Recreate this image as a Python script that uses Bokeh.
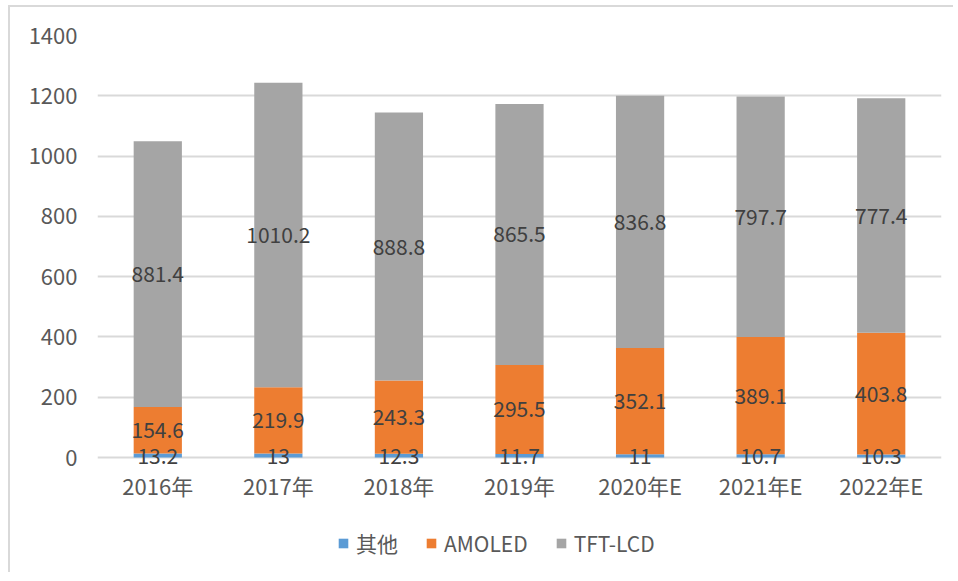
from bokeh.plotting import figure
from bokeh.models import ColumnDataSource, Legend, LegendItem, FactorRange, Range1d
from bokeh.core.properties import value
from bokeh.embed import file_html
from bokeh.resources import INLINE

categories = ["2016年", "2017年", "2018年", "2019年", "2020年E", "2021年E", "2022年E"]
other = [13.2, 13, 12.3, 11.7, 11, 10.7, 10.3]
amoled = [154.6, 219.9, 243.3, 295.5, 352.1, 389.1, 403.8]
tftlcd = [881.4, 1010.2, 888.8, 865.5, 836.8, 797.7, 777.4]
series_names = ["其他", "AMOLED", "TFT-LCD"]
y_ticks = [0, 200, 400, 600, 800, 1000, 1200, 1400]

colors = ["#5B9BD5", "#ED7D31", "#A5A5A5"]
FONT = "Noto Sans CJK SC"

# layout (pixels)
FIG_W, FIG_H = 945, 567
MB_TOP = 28
PLOT_SPAN_PX = 422          # pixel height from 0 to 1400
frame_h = FIG_H - MB_TOP
y_max = y_ticks[-1]
y_min = -(frame_h - PLOT_SPAN_PX) / PLOT_SPAN_PX * y_max   # room below 0 for labels/legend

src = ColumnDataSource(dict(cat=categories, s0=other, s1=amoled, s2=tftlcd))

p = figure(x_range=FactorRange(*categories, range_padding=0), y_range=Range1d(y_min, y_max),
           width=FIG_W, height=FIG_H, output_backend="svg", toolbar_location=None,
           min_border_left=87, min_border_right=14, min_border_top=MB_TOP, min_border_bottom=0)
p.styles = {"border-top": "2px solid #D9D9D9", "border-left": "2px solid #D9D9D9",
            "margin-left": "8px", "margin-top": "5px"}
p.outline_line_color = None
p.background_fill_color = "white"
p.border_fill_color = "white"

renderers = p.vbar_stack(["s0", "s1", "s2"], x="cat", width=0.4, source=src,
                         color=colors, line_color=None)

# data labels
cum = [0.0] * len(categories)
for vals in (other, amoled, tftlcd):
    mids = [c + v / 2 for c, v in zip(cum, vals)]
    cum = [c + v for c, v in zip(cum, vals)]
    lsrc = ColumnDataSource(dict(cat=categories, y=mids, t=[f"{v:g}" for v in vals]))
    p.text(x="cat", y="y", text="t", source=lsrc, text_align="center",
           text_baseline="middle", text_font=value(FONT), text_font_size="21px",
           text_color="#404040")

p.xgrid.grid_line_color = None
p.ygrid.grid_line_color = "#D9D9D9"
p.ygrid.grid_line_width = 2
p.yaxis.ticker = y_ticks
p.xaxis.fixed_location = 0

for ax in (p.xaxis[0], p.yaxis[0]):
    ax.axis_line_color = None
    ax.major_tick_line_color = None
    ax.minor_tick_line_color = None
    ax.major_tick_out = 0
    ax.major_tick_in = 0
    ax.major_label_text_font = FONT
    ax.major_label_text_font_size = "22px"
    ax.major_label_text_color = "#595959"
p.xaxis.major_label_standoff = 11
p.yaxis.major_label_standoff = 20

legend = Legend(items=[LegendItem(label=n, renderers=[r]) for n, r in zip(series_names, renderers)],
                orientation="horizontal", location=(240, 16),
                glyph_width=12, glyph_height=12, label_standoff=7, spacing=27,
                label_text_font=FONT, label_text_font_size="21px",
                label_text_color="#595959", border_line_color=None,
                background_fill_alpha=0, padding=0, margin=0)
p.add_layout(legend, "center")

open("out.html", "w").write(file_html(p, INLINE))
